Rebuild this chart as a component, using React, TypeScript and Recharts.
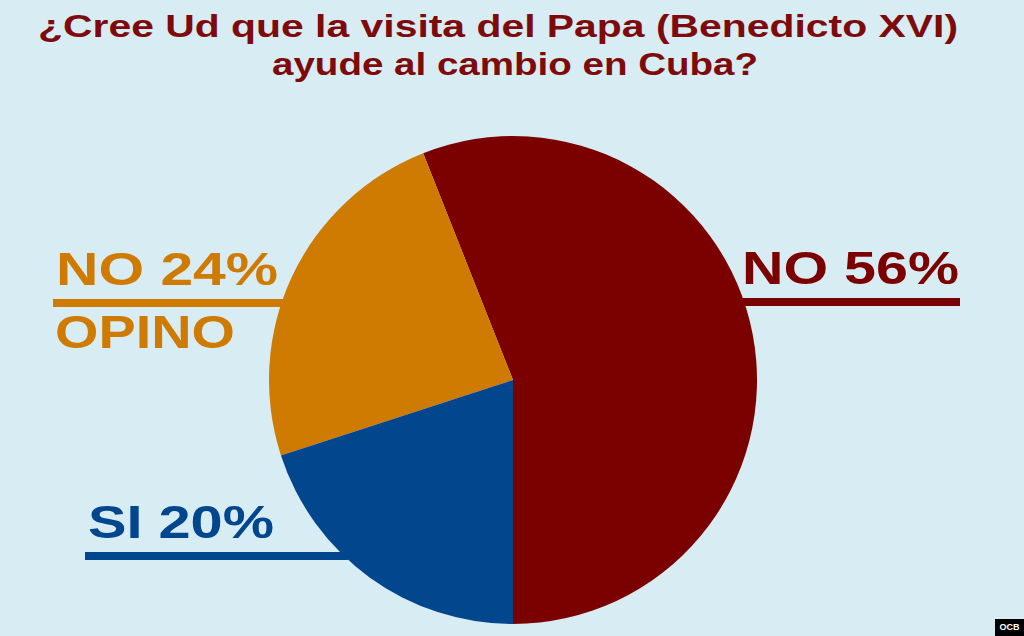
import React from 'react';
import { PieChart, Pie, Cell } from 'recharts';

const titleLines = ['¿Cree Ud que la visita del Papa (Benedicto XVI)', 'ayude al cambio en Cuba?'];
const categories = ['NO', 'NO OPINO', 'SI'];
const values = [56, 24, 20];
const labelPrefix = ['NO', 'NO', 'SI'];
const labelSuffix = ['', 'OPINO', ''];

const COLORS = ['#7b0000', '#cf7a00', '#02468d'];
const BG = '#d8ecf3';

const data = categories.map((name, i) => ({ name, value: values[i] }));

// where each label sits (baseline of first line, left x, width of text, side of pie)
const labelPos = [
  { x: 742, y: 284, w: 217, side: 'right' },
  { x: 56, y: 285, w: 222, side: 'left' },
  { x: 88, y: 538, w: 186, side: 'left' },
];

const renderLabel = (props: any) => {
  const { cx, cy, outerRadius, index, value } = props;
  const p = labelPos[index];
  const fill = COLORS[index];
  const lineY = p.y + 14;
  const dy = lineY + 4 - cy;
  const half = Math.sqrt(Math.max(outerRadius * outerRadius - dy * dy, 0));
  const x1 = p.side === 'right' ? cx + half - 2 : p.x - 3;
  const x2 = p.side === 'right' ? p.x + p.w + 1 : cx - half + 4;
  return (
    <g key={`lbl-${index}`}>
      <text
        x={p.x}
        y={p.y}
        fill={fill}
        fontFamily="'Liberation Sans', Arial, sans-serif"
        fontWeight="bold"
        fontSize={46}
        textLength={p.w}
        lengthAdjust="spacingAndGlyphs"
      >
        {`${labelPrefix[index]} ${value}%`}
      </text>
      <rect x={x1} y={lineY} width={x2 - x1} height={8} fill={fill} />
      {labelSuffix[index] && (
        <text
          x={p.x - 1}
          y={p.y + 63}
          fill={fill}
          fontFamily="'Liberation Sans', Arial, sans-serif"
          fontWeight="bold"
          fontSize={46}
          textLength={180}
          lengthAdjust="spacingAndGlyphs"
        >
          {labelSuffix[index]}
        </text>
      )}
    </g>
  );
};

export default function App() {
  return (
    <div style={{ position: 'absolute', left: 0, top: 0, width: 1024, height: 636, background: BG, overflow: 'hidden' }}>
      <svg width={1024} height={636} style={{ position: 'absolute', left: 0, top: 0 }}>
        <text
          x={38}
          y={37}
          fill="#7e0a0b"
          fontFamily="'Liberation Sans', Arial, sans-serif"
          fontWeight="bold"
          fontSize={31}
          textLength={920}
          lengthAdjust="spacingAndGlyphs"
        >
          {titleLines[0]}
        </text>
        <text
          x={272}
          y={75}
          fill="#7e0a0b"
          fontFamily="'Liberation Sans', Arial, sans-serif"
          fontWeight="bold"
          fontSize={31}
          textLength={486}
          lengthAdjust="spacingAndGlyphs"
        >
          {titleLines[1]}
        </text>
      </svg>
      <div style={{ position: 'absolute', left: 0, top: 0 }}>
        <PieChart width={1024} height={636} margin={{ top: 0, right: 0, bottom: 0, left: 0 }}>
          <Pie
            data={data}
            dataKey="value"
            nameKey="name"
            cx={513}
            cy={380}
            outerRadius={244}
            startAngle={-90}
            endAngle={270}
            stroke="none"
            label={renderLabel}
            labelLine={false}
            isAnimationActive={false}
          >
            {data.map((d, i) => (
              <Cell key={d.name} fill={COLORS[i]} />
            ))}
          </Pie>
        </PieChart>
      </div>
      <div
        style={{
          position: 'absolute',
          left: 995,
          top: 619,
          width: 29,
          height: 17,
          background: '#000',
          color: '#fff',
          fontFamily: "'Liberation Sans', Arial, sans-serif",
          fontWeight: 'bold',
          fontSize: 9,
          lineHeight: '17px',
          textAlign: 'center',
        }}
      >
        OCB
      </div>
    </div>
  );
}
